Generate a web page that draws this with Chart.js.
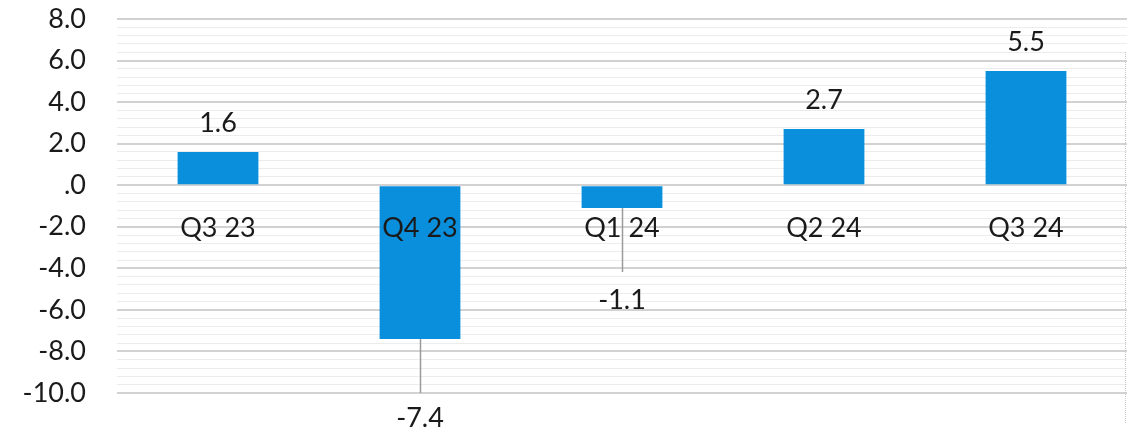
<!DOCTYPE html>
<html>
<head>
<meta charset="utf-8">
<script src="https://cdn.jsdelivr.net/npm/chart.js@4.4.1/dist/chart.umd.min.js"></script>
<style>
html,body{margin:0;padding:0;background:#fff;}
#wrap{width:1136px;height:435px;position:relative;}
</style>
</head>
<body>
<div id="wrap"><canvas id="c" width="1136" height="435"></canvas></div>
<script>
const categories = ['Q3 23', 'Q4 23', 'Q1 24', 'Q2 24', 'Q3 24'];
const values = [1.6, -7.4, -1.1, 2.7, 5.5];
const yTickLabels = ['8.0', '6.0', '4.0', '2.0', '.0', '-2.0', '-4.0', '-6.0', '-8.0', '-10.0'];
const yTickValues = [8, 6, 4, 2, 0, -2, -4, -6, -8, -10];

// label placement (pixels): offset of label centre from bar end, and leader length
const labelOffsets = [29, 79, 92, 29, 29];
const leaderLengths = [0, 54, 64, 0, 0];

const FONT = 'Lato, "Open Sans", sans-serif';
const FSIZE = 27;

function majorIdx(v) {
  for (let i = 0; i < yTickValues.length; i++) {
    if (Math.abs(v - yTickValues[i]) < 1e-6) return i;
  }
  return -1;
}

const labelPlugin = {
  id: 'valLabels',
  afterDatasetsDraw(chart) {
    const ctx = chart.ctx;
    const meta = chart.getDatasetMeta(0);
    ctx.save();
    ctx.font = FSIZE + 'px ' + FONT;
    ctx.textAlign = 'center';
    ctx.textBaseline = 'middle';
    meta.data.forEach((bar, i) => {
      const v = values[i];
      const x = bar.x;
      const yEnd = bar.y;
      if (v >= 0) {
        ctx.fillStyle = '#1a1a1a';
        ctx.fillText(v.toFixed(1), x, yEnd - labelOffsets[i]);
      } else {
        if (leaderLengths[i] > 0) {
          ctx.strokeStyle = '#9a9a9a';
          ctx.lineWidth = 1.5;
          ctx.beginPath();
          ctx.moveTo(Math.round(x) + 0.5, yEnd);
          ctx.lineTo(Math.round(x) + 0.5, yEnd + leaderLengths[i]);
          ctx.stroke();
        }
        ctx.fillStyle = '#1a1a1a';
        ctx.fillText(v.toFixed(1), x, yEnd + labelOffsets[i]);
      }
    });
    ctx.restore();
  },
  afterDraw(chart) {
    const ctx = chart.ctx;
    const a = chart.chartArea;
    ctx.save();
    ctx.strokeStyle = '#c8c8c8';
    ctx.lineWidth = 1;
    ctx.setLineDash([1, 1]);
    ctx.beginPath();
    ctx.moveTo(a.right - 1.5, a.top + 33);
    ctx.lineTo(a.right - 1.5, a.bottom + 30);
    ctx.stroke();
    ctx.restore();
  }
};

new Chart(document.getElementById('c'), {
  type: 'bar',
  data: {
    labels: categories,
    datasets: [{
      data: values,
      backgroundColor: '#0a8fdc',
      borderWidth: 0,
      barPercentage: 0.4,
      categoryPercentage: 1.0
    }]
  },
  options: {
    responsive: false,
    animation: false,
    events: [],
    layout: { padding: { top: 19, bottom: 42, left: 0, right: 9 } },
    plugins: { legend: { display: false }, tooltip: { enabled: false } },
    scales: {
      x: {
        position: { y: 0 },
        afterFit(s) { s.height = 0; s.paddingLeft = 0; s.paddingRight = 0; },
        grid: { display: false, drawTicks: false },
        border: { display: false },
        ticks: {
          z: 1,
          padding: 27,
          color: '#1a1a1a',
          font: { family: FONT, size: FSIZE },
          maxRotation: 0,
          autoSkip: false
        }
      },
      y: {
        min: -10,
        max: 8,
        afterFit(s) { s.width = 117; s.paddingTop = 0; s.paddingBottom = 0; },
        afterBuildTicks(s) {
          const t = [];
          for (let k = 0; k <= 45; k++) t.push({ value: Math.round((8 - k * 0.4) * 10) / 10 });
          s.ticks = t;
        },
        grid: {
          drawTicks: false,
          color(ctx) {
            if (!ctx.tick) return 'rgba(0,0,0,0)';
            return majorIdx(ctx.tick.value) >= 0 ? '#d2d2d2' : '#ececec';
          },
          lineWidth(ctx) {
            if (!ctx.tick) return 1;
            return majorIdx(ctx.tick.value) >= 0 ? 2 : 1;
          }
        },
        border: { display: false },
        ticks: {
          autoSkip: false,
          padding: 31,
          color: '#1a1a1a',
          font: { family: FONT, size: FSIZE },
          callback(v) {
            const i = majorIdx(v);
            return i >= 0 ? yTickLabels[i] : '';
          }
        }
      }
    }
  },
  plugins: [labelPlugin]
});
</script>
</body>
</html>
